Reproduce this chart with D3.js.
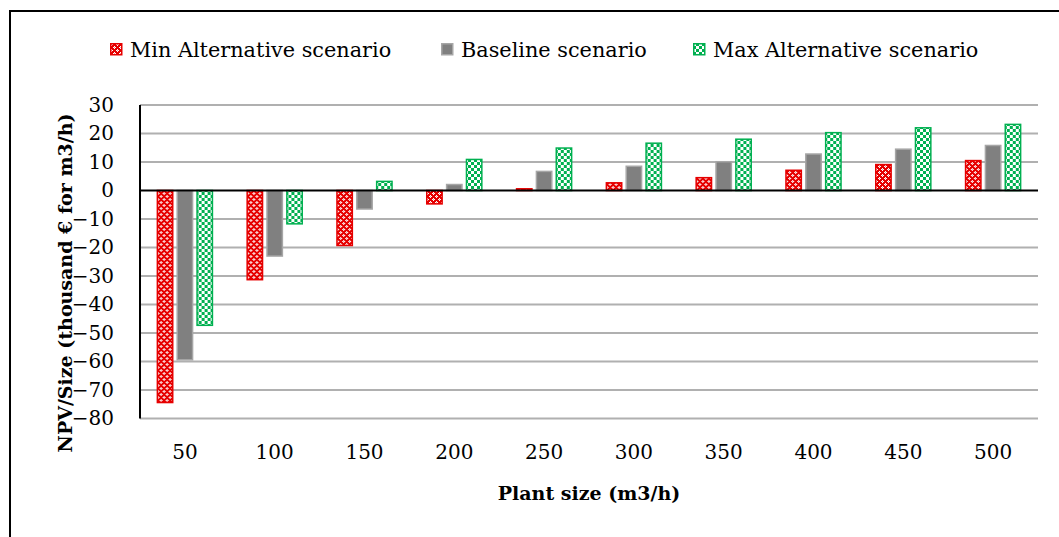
<!DOCTYPE html>
<html>
<head>
<meta charset="utf-8">
<script src="https://cdn.jsdelivr.net/npm/d3@7"></script>
<style>
  html, body { margin: 0; padding: 0; background: #fff; }
  svg { display: block; }
  text { font-family: "DejaVu Serif", "Liberation Serif", serif; fill: #000; }
</style>
</head>
<body>
<svg id="chart" width="1059" height="537"></svg>
<script>
// plant sizes (m3/h)
const categories = ["50", "100", "150", "200", "250", "300", "350", "400", "450", "500"];
const seriesNames = ["Min Alternative scenario", "Baseline scenario", "Max Alternative scenario"];
// NPV/Size, thousand € per m3/h
const minValues = [-74.4, -31.3, -19.3, -4.7, 0.6, 2.7, 4.5, 7.1, 9.1, 10.5];
const baseValues = [-59.4, -23.0, -6.5, 2.1, 6.7, 8.5, 10.1, 12.8, 14.5, 15.8];
const maxValues = [-47.3, -11.7, 3.2, 10.9, 14.9, 16.6, 18.0, 20.3, 22.0, 23.2];
const yTicks = [30, 20, 10, 0, -10, -20, -30, -40, -50, -60, -70, -80];

const svg = d3.select("#chart");
const W = 1059, H = 537;
const plot = {left: 140, right: 1038, top: 105, bottom: 418.5};

svg.append("rect").attr("width", W).attr("height", H).attr("fill", "#fff");

// outer frame (only top and left edges are visible)
svg.append("path")
  .attr("d", "M10," + H + "V11H" + W)
  .attr("fill", "none").attr("stroke", "#000").attr("stroke-width", 2);

// patterns
const defs = svg.append("defs");
const pRed = defs.append("pattern").attr("id", "pRed")
  .attr("width", 6).attr("height", 6).attr("patternUnits", "userSpaceOnUse");
pRed.append("rect").attr("width", 6).attr("height", 6).attr("fill", "#e60000");
[[1,0],[0,1],[2,1],[1,2],[4,3],[3,4],[5,4],[4,5]].forEach(function(p) {
  pRed.append("rect").attr("x", p[0]).attr("y", p[1]).attr("width", 1).attr("height", 1)
    .attr("fill", "#fff");
});
[[1,1],[4,4]].forEach(function(p) {
  pRed.append("rect").attr("x", p[0]).attr("y", p[1]).attr("width", 1).attr("height", 1)
    .attr("fill", "#f4a0a0");
});
const pGreen = defs.append("pattern").attr("id", "pGreen")
  .attr("width", 6).attr("height", 6).attr("patternUnits", "userSpaceOnUse");
pGreen.append("rect").attr("width", 6).attr("height", 6).attr("fill", "#00b050");
pGreen.append("rect").attr("x", 0).attr("y", 0).attr("width", 3).attr("height", 3).attr("fill", "#fff");
pGreen.append("rect").attr("x", 3).attr("y", 3).attr("width", 3).attr("height", 3).attr("fill", "#fff");

const fills = ["url(#pRed)", "#808080", "url(#pGreen)"];
const strokes = ["#e60000", "#a6a6a6", "#00b050"];

// scales
const y = d3.scaleLinear().domain([-80, 30]).range([plot.bottom, plot.top]);
const x0 = d3.scaleBand().domain(categories).range([plot.left, plot.right])
  .paddingInner(0.37).paddingOuter(0.185);
const x1 = d3.scaleBand().domain(seriesNames).range([0, x0.bandwidth()]).paddingInner(0.15);

// gridlines
svg.append("g").selectAll("line")
  .data(yTicks.filter(function(d) { return d !== 0; }))
  .enter().append("line")
  .attr("x1", plot.left).attr("x2", plot.right)
  .attr("y1", function(d) { return y(d); }).attr("y2", function(d) { return y(d); })
  .attr("stroke", "#b0b0b0").attr("stroke-width", 2);

// y axis labels
const yAxis = d3.axisLeft(y).tickValues(yTicks).tickSize(0).tickPadding(0);
const ya = svg.append("g").attr("transform", "translate(" + (plot.left - 26) + ",0)").call(yAxis);
ya.select(".domain").remove();
ya.selectAll("text").attr("font-family", "DejaVu Serif").attr("font-size", 20).attr("fill", "#000");

// bars
const rows = categories.map(function(c, i) {
  return {cat: c, vals: [minValues[i], baseValues[i], maxValues[i]]};
});
const groups = svg.append("g").selectAll("g")
  .data(rows).enter().append("g")
  .attr("transform", function(d) { return "translate(" + x0(d.cat) + ",0)"; });
groups.selectAll("rect")
  .data(function(d) { return d.vals.map(function(v, k) { return {k: k, v: v}; }); })
  .enter().append("rect")
  .attr("x", function(d) { return x1(seriesNames[d.k]) + 0.75; })
  .attr("width", x1.bandwidth() - 1.5)
  .attr("y", function(d) { return Math.min(y(d.v), y(0)); })
  .attr("height", function(d) { return Math.abs(y(d.v) - y(0)); })
  .attr("fill", function(d) { return fills[d.k]; })
  .attr("stroke", function(d) { return strokes[d.k]; })
  .attr("stroke-width", 1.5);

// zero line and y axis line
svg.append("line").attr("x1", plot.left).attr("x2", plot.right)
  .attr("y1", y(0)).attr("y2", y(0)).attr("stroke", "#000").attr("stroke-width", 2);
svg.append("line").attr("x1", plot.left).attr("x2", plot.left)
  .attr("y1", plot.top).attr("y2", plot.bottom).attr("stroke", "#000").attr("stroke-width", 2);

// x axis labels
const xAxis = d3.axisBottom(x0).tickSize(0).tickPadding(0);
const xa = svg.append("g").attr("transform", "translate(0,445)").call(xAxis);
xa.select(".domain").remove();
xa.selectAll("text").attr("font-family", "DejaVu Serif").attr("font-size", 20).attr("fill", "#000");

// axis titles
svg.append("text")
  .attr("x", (plot.left + plot.right) / 2).attr("y", 500)
  .attr("text-anchor", "middle").attr("font-size", 19).attr("font-weight", "bold")
  .text("Plant size (m3/h)");
svg.append("text")
  .attr("transform", "translate(72,283) rotate(-90)")
  .attr("text-anchor", "middle").attr("font-size", 19).attr("font-weight", "bold")
  .text("NPV/Size (thousand € for m3/h)");

// legend
const legendX = [110, 441, 693];
const leg = svg.append("g").selectAll("g").data(seriesNames).enter().append("g")
  .attr("transform", function(d, i) { return "translate(" + legendX[i] + ",43)"; });
leg.append("rect").attr("x", 0.75).attr("y", 0.75).attr("width", 11).attr("height", 11)
  .attr("fill", function(d, i) { return fills[i]; })
  .attr("stroke", function(d, i) { return strokes[i]; }).attr("stroke-width", 1.5);
leg.append("text").attr("x", 20).attr("y", 14).attr("font-size", 20.8)
  .text(function(d) { return d; });
</script>
</body>
</html>
